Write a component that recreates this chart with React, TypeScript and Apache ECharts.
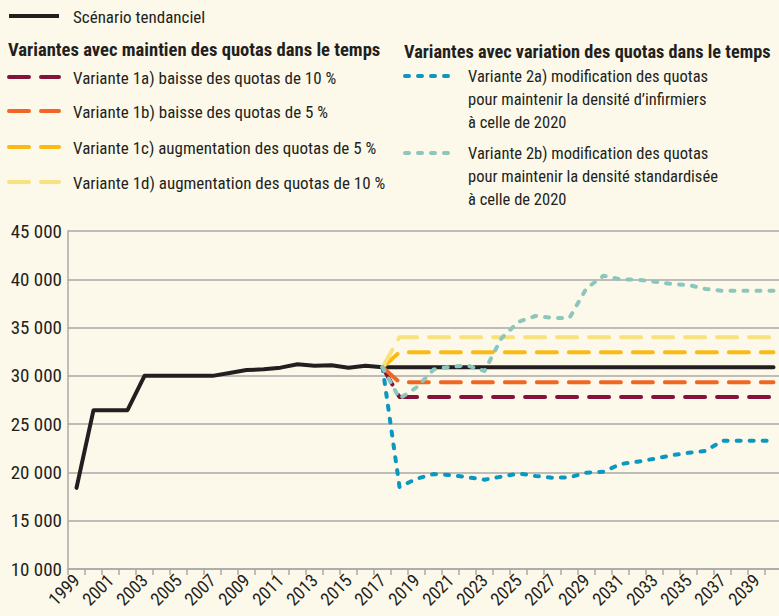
import React, { useEffect, useRef } from "react";
import * as echarts from "echarts";

const FONT = "'Liberation Sans Narrow', 'Arial Narrow', 'Roboto Condensed', sans-serif";
const TEXT = "#231f20";
const GRID = "#a9a9a9";

const years = [
  "1999", "2000", "2001", "2002", "2003", "2004", "2005", "2006", "2007", "2008",
  "2009", "2010", "2011", "2012", "2013", "2014", "2015", "2016", "2017", "2018",
  "2019", "2020", "2021", "2022", "2023", "2024", "2025", "2026", "2027", "2028",
  "2029", "2030", "2031", "2032", "2033", "2034", "2035", "2036", "2037", "2038",
  "2039", "2040",
];

// Scénario tendanciel, 1999 -> 2040
const scenario = [
  18400, 26450, 26450, 26450, 30000, 30000, 30000, 30000, 30000, 30300,
  30600, 30680, 30850, 31200, 31050, 31100, 30850, 31050, 30900, 30900,
  30900, 30900, 30900, 30900, 30900, 30900, 30900, 30900, 30900, 30900,
  30900, 30900, 30900, 30900, 30900, 30900, 30900, 30900, 30900, 30900,
  30900, 30900,
];

// Variants, 2017 -> 2040
const variant1a = [30900, 27800, 27800, 27800, 27800, 27800, 27800, 27800, 27800, 27800, 27800, 27800, 27800, 27800, 27800, 27800, 27800, 27800, 27800, 27800, 27800, 27800, 27800, 27800];
const variant1b = [30900, 29350, 29350, 29350, 29350, 29350, 29350, 29350, 29350, 29350, 29350, 29350, 29350, 29350, 29350, 29350, 29350, 29350, 29350, 29350, 29350, 29350, 29350, 29350];
const variant1c = [30900, 32450, 32450, 32450, 32450, 32450, 32450, 32450, 32450, 32450, 32450, 32450, 32450, 32450, 32450, 32450, 32450, 32450, 32450, 32450, 32450, 32450, 32450, 32450];
const variant1d = [30900, 34000, 34000, 34000, 34000, 34000, 34000, 34000, 34000, 34000, 34000, 34000, 34000, 34000, 34000, 34000, 34000, 34000, 34000, 34000, 34000, 34000, 34000, 34000];
const variant2a = [30900, 18500, 19350, 19830, 19730, 19500, 19250, 19560, 19900, 19630, 19450, 19500, 19970, 20080, 20870, 21110, 21420, 21770, 22040, 22220, 23290, 23290, 23290, 23290];
const variant2b = [30900, 27650, 28800, 30650, 30950, 31070, 30500, 33900, 35600, 36200, 36000, 36000, 39070, 40370, 40000, 39950, 39750, 39510, 39410, 39000, 38800, 38800, 38800, 38800];

const VARIANT_START = "2017";

const seriesNames = {
  scenario: "Scénario tendanciel",
  v1a: "Variante 1a) baisse des quotas de 10 %",
  v1b: "Variante 1b) baisse des quotas de 5 %",
  v1c: "Variante 1c) augmentation des quotas de 5 %",
  v1d: "Variante 1d) augmentation des quotas de 10 %",
  v2a: "Variante 2a) modification des quotas\npour maintenir la densité d\u2019infirmiers\nà celle de 2020",
  v2b: "Variante 2b) modification des quotas\npour maintenir la densité standardisée\nà celle de 2020",
};
const header1 = "Variantes avec maintien des quotas dans le temps";
const header2 = "Variantes avec variation des quotas dans le temps";

const COLORS = {
  scenario: "#231f20",
  v1a: "#83133b",
  v1b: "#f26522",
  v1c: "#fdb913",
  v1d: "#f8e17f",
  v2a: "#0a97c0",
  v2b: "#8cc6bd",
};

const LONG_DASH = [20, 12];
const SHORT_DASH = [4, 9];

function pad(values: number[]): (number | null)[] {
  const start = years.indexOf(VARIANT_START);
  const out: (number | null)[] = [];
  for (let i = 0; i < start; i++) out.push(null);
  return out.concat(values);
}

function fmt(v: number) {
  const s = String(Math.round(v));
  return s.replace(/\B(?=(\d{3})+(?!\d))/g, " ");
}

function lineSeries(name: string, data: (number | null)[], color: string, dash: any) {
  return {
    type: "line",
    name,
    data,
    symbol: "none",
    connectNulls: false,
    lineStyle: { width: 4, color, type: dash, cap: "round", join: "round" },
    emphasis: { disabled: true },
  };
}

export default function App() {
  const ref = useRef<HTMLDivElement>(null);
  useEffect(() => {
    if (!ref.current) return;
    const chart = echarts.init(ref.current, undefined, { renderer: "svg" });

    const legendLeft = [
      { key: "v1a", y: 77 },
      { key: "v1b", y: 111 },
      { key: "v1c", y: 147 },
      { key: "v1d", y: 182 },
    ];
    const legendRight = [
      { key: "v2a", y: 76 },
      { key: "v2b", y: 153 },
    ];

    const graphics: any[] = [
      {
        type: "line",
        shape: { x1: 9, y1: 16, x2: 59, y2: 16 },
        style: { stroke: COLORS.scenario, lineWidth: 4 },
      },
      {
        type: "text",
        x: 73,
        y: 17,
        style: { text: seriesNames.scenario, fill: TEXT, font: `17px ${FONT}`, verticalAlign: "middle" },
      },
      {
        type: "text",
        x: 8,
        y: 50,
        style: { text: header1, fill: TEXT, font: `bold 18.6px ${FONT}`, verticalAlign: "middle" },
      },
      {
        type: "text",
        x: 404,
        y: 51,
        style: { text: header2, fill: TEXT, font: `bold 18.3px ${FONT}`, verticalAlign: "middle" },
      },
    ];
    legendLeft.forEach((it) => {
      graphics.push({
        type: "line",
        shape: { x1: 9, y1: it.y, x2: 59, y2: it.y },
        style: { stroke: (COLORS as any)[it.key], lineWidth: 4, lineDash: LONG_DASH, lineCap: "round" },
      });
      graphics.push({
        type: "text",
        x: 73,
        y: it.y + 1,
        style: { text: (seriesNames as any)[it.key], fill: TEXT, font: `17px ${FONT}`, verticalAlign: "middle" },
      });
    });
    legendRight.forEach((it) => {
      graphics.push({
        type: "line",
        shape: { x1: 405, y1: it.y, x2: 449, y2: it.y },
        style: { stroke: (COLORS as any)[it.key], lineWidth: 4, lineDash: SHORT_DASH, lineCap: "round" },
      });
      graphics.push({
        type: "text",
        x: 468,
        y: it.y - 11,
        style: {
          text: (seriesNames as any)[it.key],
          fill: TEXT,
          font: `16.5px ${FONT}`,
          verticalAlign: "top",
          lineHeight: 23,
        },
      });
    });

    chart.setOption({
      animation: false,
      backgroundColor: "#fdf9ea",
      textStyle: { fontFamily: FONT, color: TEXT },
      grid: { left: 68, right: -3, top: 231, bottom: 47, containLabel: false, outerBoundsMode: "none" },
      xAxis: {
        type: "category",
        data: years,
        boundaryGap: true,
        axisLine: { lineStyle: { color: GRID, width: 1.5 } },
        axisTick: { show: true, interval: 0, length: 6, lineStyle: { color: GRID, width: 1.5 } },
        axisLabel: { interval: 1, rotate: 45, fontSize: 18, color: TEXT, fontFamily: FONT, margin: 8 },
        splitLine: { show: false },
      },
      yAxis: {
        type: "value",
        min: 10000,
        max: 45000,
        interval: 5000,
        axisLine: { show: true, lineStyle: { color: GRID, width: 1.5 } },
        axisTick: { show: false },
        splitLine: { show: true, lineStyle: { color: GRID, width: 1.5 } },
        axisLabel: { formatter: fmt, fontSize: 19, color: TEXT, fontFamily: FONT, margin: 6 },
      },
      series: [
        lineSeries(seriesNames.scenario, scenario, COLORS.scenario, "solid"),
        lineSeries(seriesNames.v1a, pad(variant1a), COLORS.v1a, LONG_DASH),
        lineSeries(seriesNames.v1b, pad(variant1b), COLORS.v1b, LONG_DASH),
        lineSeries(seriesNames.v1c, pad(variant1c), COLORS.v1c, LONG_DASH),
        lineSeries(seriesNames.v1d, pad(variant1d), COLORS.v1d, LONG_DASH),
        lineSeries(seriesNames.v2a, pad(variant2a), COLORS.v2a, SHORT_DASH),
        lineSeries(seriesNames.v2b, pad(variant2b), COLORS.v2b, SHORT_DASH),
      ],
      graphic: graphics,
    });
    return () => chart.dispose();
  }, []);
  return (
    <div
      ref={ref}
      style={{ position: "fixed", left: 0, top: 0, width: 779, height: 616, background: "#fdf9ea" }}
    />
  );
}
